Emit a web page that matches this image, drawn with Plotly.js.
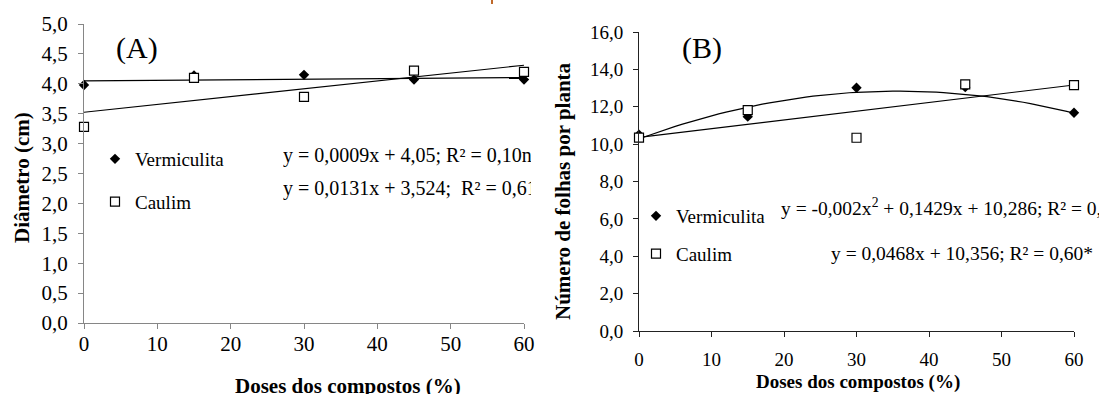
<!DOCTYPE html>
<html>
<head>
<meta charset="utf-8">
<script src="https://cdn.plot.ly/plotly-3.0.1.min.js"></script>
<style>html,body{margin:0;padding:0;background:#fff;}#chart{width:1099px;height:394px;}</style>
</head>
<body>
<div id="chart"></div>
<script>
// ---- data ----
const doses = [0, 15, 30, 45, 60];
const diametroVermiculita = [3.98, 4.14, 4.15, 4.07, 4.07];
const diametroCaulim = [3.28, 4.10, 3.78, 4.22, 4.20];
const folhasVermiculita = [10.5, 11.47, 13.02, 13.05, 11.68];
const folhasCaulim = [10.35, 11.82, 10.34, 13.2, 13.16];
// regression coefficients shown on the chart (c0, c1, c2)
const coefDiamVerm = [4.05, 0.0009, 0];
const coefDiamCaul = [3.524, 0.0131, 0];
const coefFolVerm = [10.286, 0.1429, -0.002];
const coefFolCaul = [10.356, 0.0468, 0];
const seriesNames = ["Vermiculita", "Caulim"];
const xTicks = [0, 10, 20, 30, 40, 50, 60];

const W = 1099, H = 394;
const px = x => x / W;
const py = y => 1 - y / H;
const FONT = "Liberation Serif";

function trend(c) {
  const xs = [], ys = [];
  for (let x = 0; x <= 60; x += 1) { xs.push(x); ys.push(c[0] + c[1] * x + c[2] * x * x); }
  return { xs, ys };
}

const traces = [];
function addPanel(xa, ya, vData, cData, vCoef, cCoef, leg) {
  const tv = trend(vCoef), tc = trend(cCoef);
  traces.push({ x: tv.xs, y: tv.ys, xaxis: xa, yaxis: ya, mode: "lines", line: { color: "#000", width: 1.2 }, showlegend: false, hoverinfo: "skip" });
  traces.push({ x: tc.xs, y: tc.ys, xaxis: xa, yaxis: ya, mode: "lines", line: { color: "#000", width: 1.2 }, showlegend: false, hoverinfo: "skip" });
  traces.push({ x: doses, y: vData, xaxis: xa, yaxis: ya, mode: "markers", name: seriesNames[0], legend: leg, legendgroup: leg + "v",
    marker: { symbol: "diamond", size: 8, color: "#000", line: { width: 0 } }, cliponaxis: false });
  traces.push({ x: doses, y: cData, xaxis: xa, yaxis: ya, mode: "markers", name: seriesNames[1], legend: leg, legendgroup: leg + "c",
    marker: { symbol: "square", size: 9, color: "#fff", line: { width: 1.2, color: "#000" } }, cliponaxis: false });
}
addPanel("x", "y", diametroVermiculita, diametroCaulim, coefDiamVerm, coefDiamCaul, "legend");
addPanel("x2", "y2", folhasVermiculita, folhasCaulim, coefFolVerm, coefFolCaul, "legend2");

function ann(text, x, y, size, opts) {
  return Object.assign({ text, x: px(x), y: py(y), xref: "paper", yref: "paper", showarrow: false,
    xanchor: "center", yanchor: "middle", font: { family: FONT, size, color: "#000" } }, opts || {});
}

const axL = "#868686", axR = "#222";
const tf = size => ({ family: FONT, size, color: "#000", weight: "normal" });
const layout = {
  width: W, height: H, margin: { l: 0, r: 0, t: 0, b: 0 },
  paper_bgcolor: "#fff", plot_bgcolor: "#fff", separators: ",.",
  font: { family: FONT, color: "#000", size: 19 },
  xaxis: { domain: [px(84), px(524)], range: [0, 60], tickvals: xTicks, showgrid: false, zeroline: false,
    showline: true, linecolor: axL, linewidth: 1, ticks: "outside", ticklen: 5, tickcolor: axL,
    tickfont: tf(21), anchor: "y", ticklabelstandoff: -3 },
  yaxis: { domain: [py(323), py(24)], range: [0, 5], dtick: 0.5, tickformat: ".1f", showgrid: false, zeroline: false,
    showline: true, linecolor: axL, linewidth: 1, ticks: "outside", ticklen: 5, tickcolor: axL,
    tickfont: tf(21), anchor: "x", ticklabelstandoff: 6 },
  xaxis2: { domain: [px(639), px(1074)], range: [0, 60], tickvals: xTicks, showgrid: false, zeroline: false,
    showline: true, linecolor: axR, linewidth: 1, ticks: "outside", ticklen: 5, tickcolor: axR,
    tickfont: tf(19), anchor: "y2", ticklabelstandoff: 6 },
  yaxis2: { domain: [py(331), py(32)], range: [0, 16], dtick: 2, tickformat: ".1f", showgrid: false, zeroline: false,
    showline: true, linecolor: axR, linewidth: 1, ticks: "outside", ticklen: 5, tickcolor: axR,
    tickfont: tf(19), anchor: "x2", ticklabelstandoff: 6 },
  legend: { x: px(95), y: py(140), xanchor: "left", yanchor: "top", bgcolor: "rgba(0,0,0,0)",
    font: tf(19), traceorder: "grouped", tracegroupgap: 15, itemclick: false },
  legend2: { x: px(636), y: py(197), xanchor: "left", yanchor: "top", bgcolor: "rgba(0,0,0,0)",
    font: tf(19), traceorder: "grouped", tracegroupgap: 10, itemclick: false },
  shapes: [
    { type: "line", xref: "paper", yref: "paper", x0: px(492), x1: px(492), y0: py(0), y1: py(4),
      line: { color: "#c0692a", width: 2 } }
  ],
  annotations: [
    ann("(A)", 137, 48, 30),
    ann("(B)", 702, 48, 30),
    ann("<b>Doses dos compostos (%)</b>", 348, 386, 21),
    ann("<b>Doses dos compostos (%)</b>", 858, 382, 19),
    ann("<b>Diâmetro (cm)</b>", 22, 178, 21, { textangle: -90 }),
    ann("<b>Número de folhas por planta</b>", 563, 191, 21, { textangle: -90 }),
    ann("y = 0,0009x + 4,05; R² = 0,10ns", 281, 155, 20, { xanchor: "left", align: "left", width: 248 }),
    ann("y = 0,0131x + 3,524;\u00A0 R² = 0,61*", 281, 188, 20, { xanchor: "left", align: "left", width: 248 }),
    ann("y = -0,002x<sup>2</sup> + 0,1429x + 10,286; R² = 0,", 779, 207, 19.5, { xanchor: "left", align: "left" }),
    ann("y = 0,0468x + 10,356; R² = 0,60*", 829, 253, 19.5, { xanchor: "left", align: "left" })
  ]
};

Plotly.newPlot("chart", traces, layout, { staticPlot: true, displayModeBar: false });
</script>
</body>
</html>
